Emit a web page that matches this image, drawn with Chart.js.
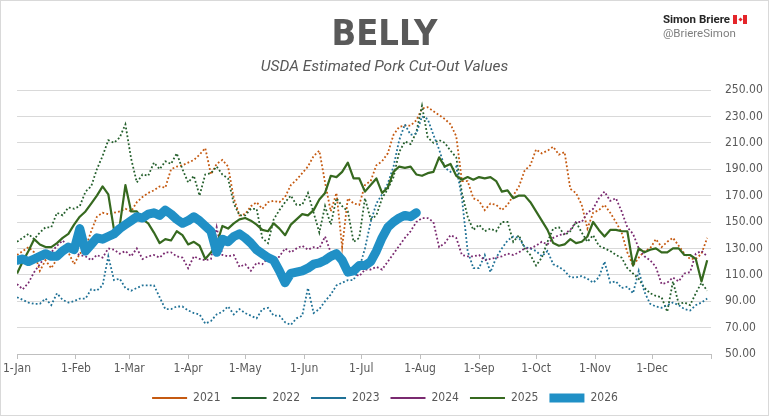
<!DOCTYPE html>
<html><head><meta charset="utf-8">
<script src="https://cdn.jsdelivr.net/npm/chart.js@4.4.1/dist/chart.umd.min.js"></script>
<style>
html,body{margin:0;padding:0;background:#fff;}
#wrap{position:relative;width:769px;height:416px;overflow:hidden;background:#fff;}
#c{position:absolute;left:0;top:0;}
#frame{position:absolute;left:0;top:0;width:769px;height:416px;box-sizing:border-box;border:1px solid #D9D9D9;pointer-events:none;}
#title{position:absolute;left:0;width:769px;top:12px;text-align:center;font-weight:bold;font-size:36px;line-height:42px;font-family:'Liberation Sans Narrow','DejaVu Sans Condensed',Roboto,sans-serif;color:#595959;}
#sub{position:absolute;left:0;width:769px;top:56px;text-align:center;font-style:italic;font-size:15.5px;line-height:20px;font-family:Roboto,'Liberation Sans',sans-serif;color:#595959;}
#author{position:absolute;left:663px;top:12px;font-family:Roboto,'Liberation Sans',sans-serif;font-size:11.5px;line-height:14px;}
#author .n{font-weight:bold;color:#262626;}
#author .h{color:#7F7F7F;}
.flag{display:inline-block;position:relative;width:14px;height:9px;margin-left:3px;vertical-align:-1px;background:linear-gradient(to right,#E4252A 0,#E4252A 26%,#fff 26%,#fff 74%,#E4252A 74%);}
.flag:after{content:'';position:absolute;left:5.5px;top:2.5px;width:3px;height:3px;background:#E4252A;transform:rotate(45deg);}
</style>
</head><body>
<div id="wrap">
<canvas id="c" width="769" height="416"></canvas>
<div id="title">BELLY</div>
<div id="sub">USDA Estimated Pork Cut-Out Values</div>
<div id="author"><div class="n">Simon Briere<span class="flag"></span></div><div class="h">@BriereSimon</div></div>
<div id="frame"></div>
</div>
<script>
// Day of year for each observation (0 = 1-Jan)
const days = [0,3,6,9,12,15,18,21,24,27,
30,33,36,39,42,45,48,51,54,57,
60,63,66,69,72,75,78,81,84,87,
90,93,96,99,102,105,108,111,114,117,
120,123,126,129,132,135,138,141,144,147,
150,153,156,159,162,165,168,171,174,177,
180,183,186,189,192,195,198,201,204,207,
210,213,216,219,222,225,228,231,234,237,
240,243,246,249,252,255,258,261,264,267,
270,273,276,279,282,285,288,291,294,297,
300,303,306,309,312,315,318,321,324,327,
330,333,336,339,342,345,348,351,354,357,
360,363];

const v2021 = [125,128,131,127,113,121,115,122,131,127,
118,126,130,143,154,157,156,157,158,160,
158,165,169,172,174,177,176,190,192,193,
195,197,201,206,186,194,197,192,168,155,
156,162,165,160,165,166,165,169,178,182,
187,192,200,204,180,158,172,131,168,164,
163,178,181,193,196,202,216,222,223,223,
227,236,237,234,231,228,224,215,181,181,
168,166,159,164,163,159,163,170,177,189,
193,205,202,204,207,201,203,175,172,163,
145,157,159,163,157,150,142,127,117,123,
128,130,137,131,135,138,132,126,122,122,
126,138];

const v2022 = [135,138,141,137,142,146,146,157,155,161,
160,162,173,177,190,200,212,210,214,224,
198,180,186,185,195,190,196,194,202,190,
180,185,170,186,187,192,186,183,164,155,
155,160,160,138,134,152,159,165,170,163,
163,172,157,142,162,148,168,162,158,135,
138,168,152,155,168,175,184,203,211,209,
218,238,214,210,212,210,204,199,172,154,
144,148,143,145,143,150,150,135,140,130,
125,117,123,135,145,146,140,143,150,142,
135,140,132,130,128,125,123,115,111,107,
100,96,94,93,82,105,88,89,87,96,
104,98];

const v2023 = [93,91,89,88,88,92,87,96,91,89,
90,92,92,99,98,102,124,106,107,100,
98,100,102,102,102,93,84,84,86,86,
83,81,80,73,75,80,82,86,80,84,
81,79,77,84,85,79,79,74,72,77,
79,100,81,84,90,95,102,104,106,106,
115,130,150,164,171,179,192,212,224,216,
217,230,228,216,205,191,188,192,168,128,
115,115,125,112,123,130,136,139,138,131,
130,128,124,128,118,116,113,108,108,109,
107,104,108,120,104,105,100,101,96,113,
97,88,86,85,87,89,87,84,83,87,
89,92];

const v2024 = [103,99,104,112,118,124,127,132,136,131,
127,125,124,121,125,123,130,129,126,128,
124,130,122,124,125,123,127,127,124,123,
115,124,122,121,122,146,125,124,125,116,
118,113,119,118,123,119,124,130,127,130,
132,129,131,130,139,127,125,120,114,111,
109,114,114,116,114,120,126,132,138,143,
150,153,153,150,131,134,140,138,125,124,
124,125,121,122,123,124,126,125,127,130,
130,132,135,133,138,140,141,144,150,150,
157,160,168,173,166,168,158,146,141,130,
124,121,116,103,104,108,105,111,112,126,
128,124];

const v2025 = [111,120,128,137,133,131,131,134,138,141,
148,154,158,164,170,177,171,144,147,178,
158,158,152,149,142,134,137,136,143,140,
133,135,132,122,127,133,147,145,149,152,
153,151,148,144,143,149,145,140,148,152,
156,155,159,167,172,185,184,188,195,183,
183,173,178,183,172,176,188,192,191,192,
186,185,187,188,199,192,194,185,182,184,
182,184,183,184,181,173,174,168,170,170,
165,158,151,144,134,132,133,137,134,135,
139,150,144,139,144,144,143,143,117,130,
127,129,130,127,127,130,130,125,125,122,
105,121];

const v2026 = [121,122,120,122,124,126,124,124,128,131,
129,145,128,133,138,137,139,141,145,148,
151,154,153,156,157,155,159,156,152,149,
151,154,151,147,143,127,137,135,139,141,
138,134,129,126,123,121,113,104,111,112,
113,115,118,119,121,124,126,121,112,113,
117,117,120,128,138,146,150,153,155,154,
157];

const monthDays = [0,31,59,90,120,151,181,212,243,273,304,334,365];
const monthLabels = ['1-Jan','1-Feb','1-Mar','1-Apr','1-May','1-Jun','1-Jul','1-Aug','1-Sep','1-Oct','1-Nov','1-Dec',''];
const seriesNames = ['2021','2022','2023','2024','2025','2026'];

function pts(vals){ return vals.map((v,i)=>({x:days[i],y:v})); }

const FONT = "'Liberation Sans Narrow','DejaVu Sans Condensed',Roboto,sans-serif";
const dotted = (label,vals,color,order)=>({label,data:pts(vals),borderColor:color,backgroundColor:color,borderWidth:1.8,borderDash:[1.8,2.2],pointRadius:0,tension:0,order,borderCapStyle:'butt'});

const shiftLegend = {
  id:'shiftLegend',
  afterLayout(chart){ const l=chart.legend; if(l){ l.left-=7; l.right-=7; } }
};

new Chart(document.getElementById('c'),{
  type:'line',
  data:{datasets:[
    dotted(seriesNames[0],v2021,'#C55A11',6),
    dotted(seriesNames[1],v2022,'#245F2C',5),
    dotted(seriesNames[2],v2023,'#1F7196',4),
    dotted(seriesNames[3],v2024,'#7A2A70',3),
    {label:seriesNames[4],data:pts(v2025),borderColor:'#36691F',backgroundColor:'#36691F',borderWidth:2.2,pointRadius:0,tension:0,order:2,borderJoinStyle:'round'},
    {label:seriesNames[5],data:pts(v2026),borderColor:'#2090C6',backgroundColor:'#2090C6',borderWidth:9,pointRadius:0,tension:0,order:1,borderCapStyle:'round',borderJoinStyle:'round'}
  ]},
  options:{
    responsive:false,animation:false,
    layout:{padding:{left:15,right:0,top:90,bottom:2}},
    plugins:{
      legend:{position:'bottom',labels:{usePointStyle:true,pointStyle:'line',pointStyleWidth:35,padding:11,color:'#595959',font:{family:FONT,size:12},sort:(a,b)=>a.datasetIndex-b.datasetIndex}},
      tooltip:{enabled:false},
      title:{display:false}
    },
    scales:{
      x:{type:'linear',min:0,max:365,
        afterBuildTicks:(s)=>{ s.ticks = monthDays.map(v=>({value:v})); },
        afterFit:(s)=>{ s.height=27; },
        ticks:{autoSkip:false,maxRotation:0,padding:3,color:'#595959',font:{family:FONT,size:12},
          callback:(v,i)=>monthLabels[i]},
        grid:{drawOnChartArea:false,drawTicks:true,tickLength:5,color:'#BFBFBF'},
        border:{display:true,color:'#BFBFBF',width:1}
      },
      y:{position:'right',min:50,max:250,
        afterFit:(s)=>{ s.width=58; },
        ticks:{stepSize:20,padding:14,color:'#595959',font:{family:FONT,size:12},callback:(v)=>Number(v).toFixed(2)},
        grid:{color:'#D9D9D9',drawTicks:false},
        border:{display:false}
      }
    }
  },
  plugins:[shiftLegend]
});
</script>
</body></html>
